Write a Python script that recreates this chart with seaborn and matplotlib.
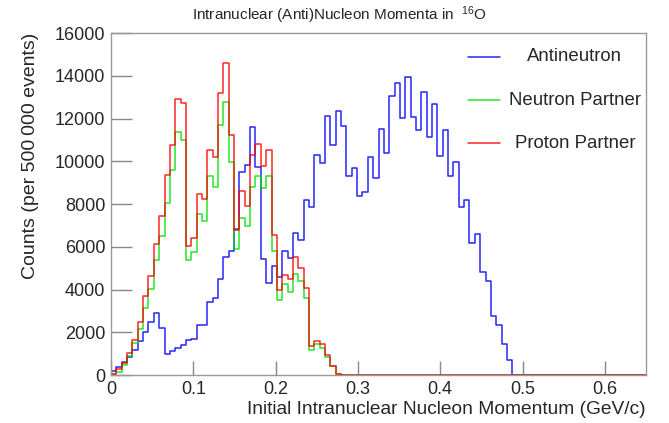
import numpy as np
import pandas as pd
import matplotlib
matplotlib.use("Agg")
import matplotlib.pyplot as plt
import seaborn as sns
from matplotlib.ticker import MultipleLocator

# ---------------- data (counts per bin, 100 bins of 0.0065 GeV/c) ----------------
n_bins = 100
p_min, p_max = 0.0, 0.65

antineutron = [170, 375, 590, 840, 1150, 1590, 2030, 2480, 2900, 2210,
               1000, 1120, 1250, 1420, 1620, 1700, 2350, 2350, 3400, 3600,
               4500, 5500, 5780, 6840, 9480, 9840, 11580, 9730, 5450, 4300,
               5120, 4580, 5820, 5460, 6660, 6320, 8190, 7850, 10290, 9930,
               12110, 10760, 12360, 11650, 9310, 9700, 8390, 8550, 10210, 9230,
               11490, 10400, 13050, 13670, 12040, 13920, 12080, 11460, 13250, 11150,
               12660, 10250, 11450, 9300, 9980, 7880, 8190, 6170, 6590, 4800,
               4380, 2770, 2350, 1450, 690]
neutron_partner = [30, 160, 470, 870, 1500, 2150, 3140, 4020, 5370, 6520,
                   8050, 9610, 11360, 11010, 5400, 5760, 7520, 7220, 9310, 8810,
                   11680, 12780, 9980, 5890, 7330, 6960, 8800, 9300, 8750, 9300,
                   5780, 3500, 4270, 3860, 4730, 4420, 3600, 1180, 1460, 1260,
                   830, 400, 60]
proton_partner = [60, 280, 560, 1030, 1650, 2480, 3680, 4620, 6150, 7460,
                  9360, 10760, 12920, 12730, 6050, 6400, 8470, 8220, 10530, 10210,
                  13170, 14600, 11230, 6790, 8600, 7900, 10300, 10800, 9800, 10530,
                  6550, 4000, 4700, 4500, 5510, 5000, 4060, 1340, 1570, 1460,
                  950, 440, 60]

series_names = ["Antineutron", "Neutron Partner", "Proton Partner"]
series_colors = ["#0000ff", "#00e000", "#ff0000"]
x_ticks = [0.0, 0.1, 0.2, 0.3, 0.4, 0.5, 0.6]
x_tick_labels = ["0", "0.1", "0.2", "0.3", "0.4", "0.5", "0.6"]
y_ticks = [0, 2000, 4000, 6000, 8000, 10000, 12000, 14000, 16000]
y_tick_labels = [str(v) for v in y_ticks]

title = r"Intranuclear (Anti)Nucleon Momenta in  $^{16}$O"
x_label = "Initial Intranuclear Nucleon Momentum (GeV/c)"
y_label = "Counts (per 500\u2009000 events)"

# ---------------- build table ----------------
edges = np.linspace(p_min, p_max, n_bins + 1)
centers = 0.5 * (edges[:-1] + edges[1:])


def pad(vals):
    return list(vals) + [0] * (n_bins - len(vals))


frames = []
for name, vals in zip(series_names, [antineutron, neutron_partner, proton_partner]):
    frames.append(pd.DataFrame({"p": centers, "count": pad(vals), "series": name}))
df = pd.concat(frames, ignore_index=True)

# ---------------- style ----------------
sns.set_style("white")
plt.rcParams["font.family"] = ["Liberation Sans", "DejaVu Sans"]
plt.rcParams["mathtext.fontset"] = "custom"
plt.rcParams["mathtext.rm"] = "Liberation Sans"
plt.rcParams["mathtext.it"] = "Liberation Sans"

fig = plt.figure(figsize=(6.69, 4.23), dpi=100)
ax = fig.add_axes([111 / 669, 1 - 375 / 423, 535 / 669, 342 / 423])

for name, col in zip(series_names, series_colors):
    sub = df[df["series"] == name]
    sns.histplot(data=sub, x="p", weights="count", bins=n_bins,
                 binrange=(p_min, p_max), element="step",
                 fill=False, color=col, linewidth=1.1, alpha=0.85, ax=ax)

ax.set_xlim(p_min, p_max)
ax.set_ylim(0, 16000)
ax.set_xticks(x_ticks)
ax.set_xticklabels(x_tick_labels)
ax.set_yticks(y_ticks)
ax.set_yticklabels(y_tick_labels)
ax.xaxis.set_minor_locator(MultipleLocator(0.02))
ax.yaxis.set_minor_locator(MultipleLocator(500))
ax.tick_params(axis="x", which="major", direction="in", length=10, width=1,
               color="#888888", labelsize=13, pad=4)
ax.tick_params(axis="x", which="minor", direction="in", length=5, width=1, color="#888888")
ax.tick_params(axis="y", which="major", direction="in", length=15, width=1,
               color="#888888", labelsize=13, pad=4)
ax.tick_params(axis="y", which="minor", direction="in", length=7.5, width=1, color="#888888")
ax.tick_params(top=False, right=False, bottom=True, left=True)
for s in ax.spines.values():
    s.set_color("#999999")
    s.set_linewidth(1.0)

ax.set_xlabel(x_label, fontsize=13.8, loc="right")
ax.xaxis.set_label_coords(1.0, -0.077)
ax.set_ylabel(y_label, fontsize=14, loc="top")
ax.yaxis.set_label_coords(-0.135, 1.0)

fig.text(340 / 669, 1 - 15 / 423, title, ha="center", va="center", fontsize=11)

# legend (centered labels, no border, as in the reference)
leg_y = [0.930, 0.804, 0.678]
for name, col, yy in zip(series_names, series_colors, leg_y):
    ax.plot([0.667, 0.727], [yy, yy], transform=ax.transAxes, color=col,
            linewidth=1.1, alpha=0.85)
    ax.text(0.867, yy, name, transform=ax.transAxes, ha="center", va="center",
            fontsize=13.4)

fig.savefig("out.png", dpi=100)
